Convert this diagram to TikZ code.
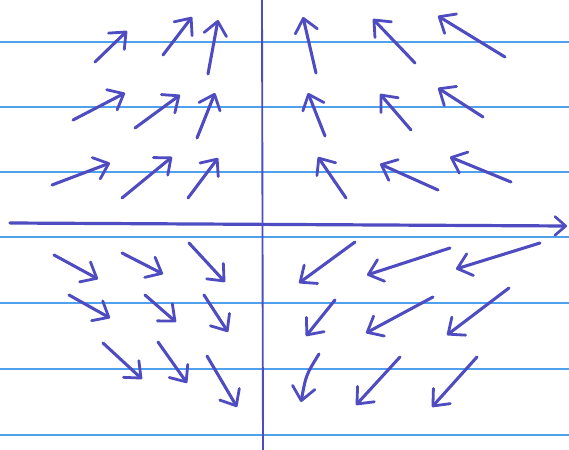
\documentclass[tikz,border=0pt]{standalone}
\usetikzlibrary{arrows.meta}
\definecolor{ink}{RGB}{78,76,192}
\definecolor{rule}{RGB}{80,160,235}
\tikzset{
  vec/.style={draw=ink, line width=2.3pt, line cap=round, line join=round,
    -{Straight Barb[length=10pt,width=17pt,line width=2.1pt,round]}},
  ruled/.style={draw=rule, line width=1.5pt},
  axis/.style={draw=ink, line width=2.4pt, line cap=round,
    -{Straight Barb[length=8pt,width=14pt,line width=2pt,round]}},
  margin/.style={draw=ink, line width=1.4pt}
}
\begin{document}
\begin{tikzpicture}[x=0.75pt,y=-0.75pt]
\useasboundingbox (0,0) rectangle (569,450);
\fill[white] (0,0) rectangle (569,450);
% ruled lines
\foreach \y in {42,107,172,237,303,369,435}
  \draw[ruled] (0,\y) -- (569,\y);
% vertical axis
\draw[margin] (262,0) -- (263,450);
% horizontal axis
\coordinate (axL) at (10,223);
\coordinate (axR) at (567,226);
\draw[axis] (axL) -- (axR);
% upper-left quadrant
\draw[vec] (95,62) -- (127,31);
\draw[vec] (163,55) -- (192,17);
\draw[vec] (208,74) -- (218,20);
\draw[vec] (73,120) -- (125,93);
\draw[vec] (135,128) -- (180,95);
\draw[vec] (197,138) -- (215,93);
\draw[vec] (52,185) -- (110,163);
\draw[vec] (122,198) -- (172,157);
\draw[vec] (188,198) -- (218,158);
% upper-right quadrant
\draw[vec] (316,73) -- (303,17);
\draw[vec] (415,63) -- (373,19);
\draw[vec] (505,57) -- (438,16);
\draw[vec] (325,136) -- (308,93);
\draw[vec] (411,130) -- (380,94);
\draw[vec] (483,117) -- (438,88);
\draw[vec] (346,198) -- (318,157);
\draw[vec] (438,190) -- (380,164);
\draw[vec] (511,182) -- (450,157);
% lower-left quadrant
\draw[vec] (54,255) -- (98,279);
\draw[vec] (122,253) -- (163,274);
\draw[vec] (189,243) -- (225,282);
\draw[vec] (69,295) -- (110,318);
\draw[vec] (145,295) -- (176,322);
\draw[vec] (204,295) -- (228,332);
\draw[vec] (103,343) -- (142,379);
\draw[vec] (158,342) -- (187,383);
\draw[vec] (207,356) -- (237,407);
% lower-right quadrant
\draw[vec] (355,242) -- (299,283);
\draw[vec] (450,248) -- (367,275);
\draw[vec] (540,243) -- (456,269);
\draw[vec] (335,300) -- (306,336);
\draw[vec] (433,297) -- (366,333);
\draw[vec] (509,288) -- (447,335);
\draw[vec] (319,354) .. controls (306,375) .. (301,402);
\draw[vec] (400,357) -- (356,405);
\draw[vec] (477,357) -- (432,407);
\end{tikzpicture}
\end{document}
